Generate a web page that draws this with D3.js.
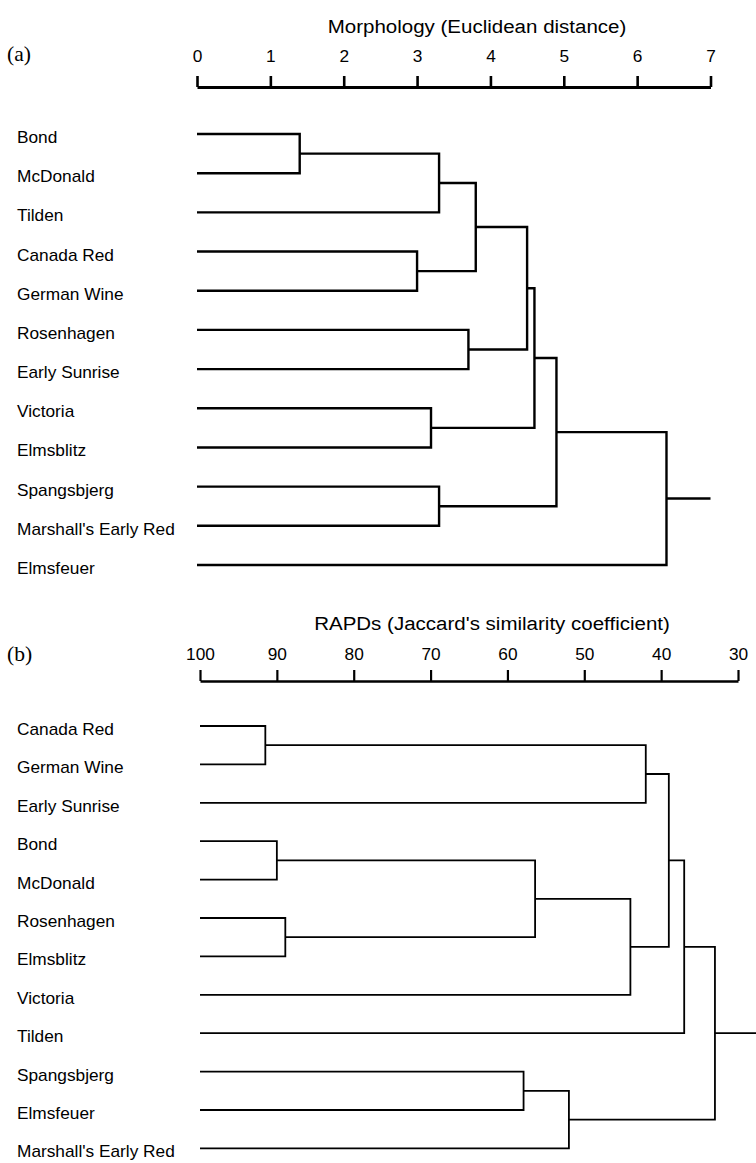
<!DOCTYPE html>
<html>
<head>
<meta charset="utf-8">
<script src="https://cdn.jsdelivr.net/npm/d3@7"></script>
<style>
  body { margin: 0; background: #fff; }
</style>
</head>
<body>
<div class="graph"></div>
<script>
// (a) morphology, Euclidean distance
let morphLeaves = ["Bond", "McDonald", "Tilden", "Canada Red", "German Wine", "Rosenhagen",
                   "Early Sunrise", "Victoria", "Elmsblitz", "Spangsbjerg", "Marshall's Early Red", "Elmsfeuer"];
// [left, right, height] - ids 12+ are the earlier merges, in order
let morphMerges = [[0, 1, 1.40], [12, 2, 3.30], [3, 4, 3.00], [13, 14, 3.80], [5, 6, 3.70], [15, 16, 4.50],
                   [7, 8, 3.19], [17, 18, 4.60], [9, 10, 3.30], [19, 20, 4.90], [21, 11, 6.40]];
let morphTicks = [0, 1, 2, 3, 4, 5, 6, 7];
let morphRoot = 7.0;

// (b) RAPDs, Jaccard's similarity
let rapdLeaves = ["Canada Red", "German Wine", "Early Sunrise", "Bond", "McDonald", "Rosenhagen",
                  "Elmsblitz", "Victoria", "Tilden", "Spangsbjerg", "Elmsfeuer", "Marshall's Early Red"];
let rapdMerges = [[0, 1, 91.5], [12, 2, 42.0], [3, 4, 90.0], [5, 6, 88.9], [14, 15, 56.4], [16, 7, 44.0],
                  [13, 17, 39.0], [18, 8, 37.0], [9, 10, 57.9], [20, 11, 52.0], [19, 21, 33.0]];
let rapdTicks = [100, 90, 80, 70, 60, 50, 40, 30];
let rapdRoot = 27.6;

var w = 756;
var h = 1163;
var sx = 1.08; // the figure's type is a bit wide
var sans = "'Liberation Sans', Arial, Helvetica, sans-serif";
var serif = "'Liberation Serif', 'Times New Roman', serif";

var svg = d3.select(".graph").append("svg")
            .attr('width', w)
            .attr('height', h);

function drawPanel(p) {
  var x = d3.scaleLinear().domain([p.ticks[0], p.ticks[p.ticks.length - 1]]).range(p.xRange);
  var y = d3.scalePoint().domain(p.leaves).range([p.rowY, p.rowY + (p.leaves.length - 1) * p.step]);

  // axis on top
  var ax = svg.append("g")
              .attr("transform", `translate(0,${p.axisY})`)
              .call(d3.axisTop(x).tickValues(p.ticks).tickSize(11).tickSizeOuter(0)
                      .tickPadding(p.pad).tickFormat(d3.format("d")));
  ax.select(".domain").attr("stroke", "#000").attr("stroke-width", p.axisLw);
  ax.selectAll(".tick line").attr("stroke", "#000").attr("stroke-width", p.axisLw - 0.4);
  ax.selectAll(".tick text")
    .attr("fill", "#000")
    .attr("font-family", sans)
    .attr("font-size", "16px")
    .attr("transform", `scale(${sx},1)`);

  svg.append("text")
     .attr("transform", `translate(${p.titleX},${p.titleY}) scale(${sx},1)`)
     .attr("text-anchor", "middle")
     .attr("font-family", sans)
     .attr("font-size", "19px")
     .text(p.title);

  svg.append("text")
     .attr("transform", `translate(7,${p.tagY}) scale(${sx},1)`)
     .attr("font-family", serif)
     .attr("font-size", "20px")
     .text(p.tag);

  // leaf labels
  svg.append("g").selectAll("text")
     .data(p.leaves)
     .enter()
     .append("text")
     .attr("transform", function(d) { return `translate(17,${y(d) + 9}) scale(${sx},1)`; })
     .attr("font-family", sans)
     .attr("font-size", "16px")
     .text(function(d) { return d; });

  // nodes: leaves first, then each merge at its height
  var nodes = p.leaves.map(function(d) { return {x: x(p.ticks[0]), y: y(d)}; });
  var paths = [];
  p.merges.forEach(function(m) {
    var a = nodes[m[0]], b = nodes[m[1]], xm = x(m[2]);
    paths.push(`M${a.x},${a.y}H${xm}V${b.y}H${b.x}`);
    nodes.push({x: xm, y: (a.y + b.y) / 2});
  });
  var top = nodes[nodes.length - 1];
  paths.push(`M${top.x},${top.y}H${x(p.root)}`);

  svg.append("g").selectAll("path")
     .data(paths)
     .enter()
     .append("path")
     .attr("d", function(d) { return d; })
     .attr("fill", "none")
     .attr("stroke", "#000")
     .attr("stroke-width", p.lw)
     .attr("stroke-linejoin", "miter");
}

drawPanel({
  leaves: morphLeaves, merges: morphMerges, ticks: morphTicks, root: morphRoot,
  xRange: [197, 710.5], axisY: 87, pad: 14, rowY: 134, step: 39.18,
  title: "Morphology (Euclidean distance)", titleX: 477, titleY: 33, tag: "(a)", tagY: 61,
  lw: 2.4, axisLw: 3
});

drawPanel({
  leaves: rapdLeaves, merges: rapdMerges, ticks: rapdTicks, root: rapdRoot,
  xRange: [200, 738], axisY: 681, pad: 10, rowY: 726, step: 38.4,
  title: "RAPDs (Jaccard's similarity coefficient)", titleX: 492, titleY: 630, tag: "(b)", tagY: 661,
  lw: 1.8, axisLw: 2.6
});
</script>
</body>
</html>
